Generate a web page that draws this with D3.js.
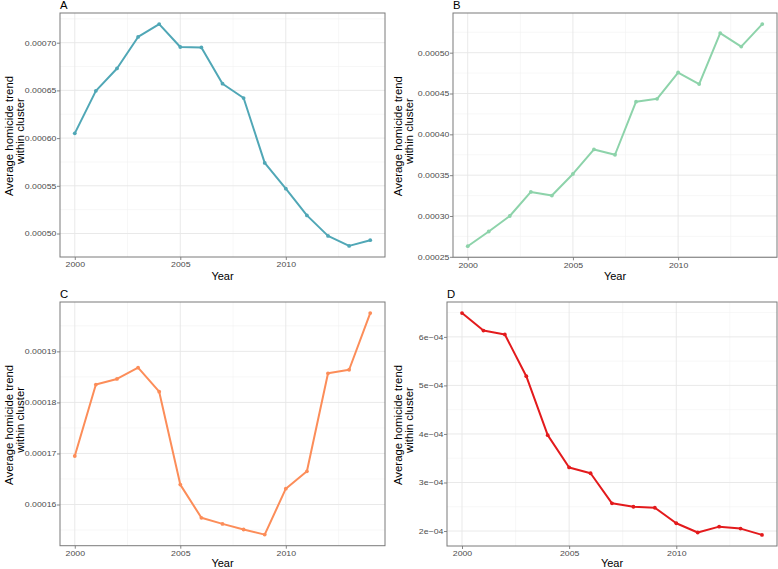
<!DOCTYPE html>
<html>
<head>
<meta charset="utf-8">
<script src="https://cdn.jsdelivr.net/npm/d3@7"></script>
<style>
  html, body { margin: 0; padding: 0; background: #fff; }
  svg { display: block; font-family: "Liberation Sans", Arial, Helvetica, sans-serif; }
</style>
</head>
<body>
<svg id="chart" width="778" height="569"></svg>
<script>
const years = [2000, 2001, 2002, 2003, 2004, 2005, 2006, 2007, 2008, 2009, 2010, 2011, 2012, 2013, 2014];

const valuesA = [0.000605, 0.0006495, 0.000673, 0.000706, 0.0007195, 0.0006955, 0.000695, 0.000657, 0.000642, 0.000574, 0.000547, 0.000519, 0.0004975, 0.000487, 0.000493];
const valuesB = [0.000263, 0.000281, 0.0003, 0.0003295, 0.000325, 0.0003515, 0.0003815, 0.000375, 0.00044, 0.0004435, 0.0004757, 0.0004615, 0.000524, 0.0005075, 0.000535];
const valuesC = [0.0001695, 0.0001835, 0.0001846, 0.0001868, 0.0001821, 0.0001639, 0.0001574, 0.0001562, 0.0001551, 0.0001541, 0.0001631, 0.0001665, 0.0001857, 0.0001864, 0.0001975];
const valuesD = [0.000649, 0.000613, 0.000605, 0.000519, 0.0003975, 0.000331, 0.000319, 0.000257, 0.00025, 0.000248, 0.000216, 0.000197, 0.000209, 0.000205, 0.000192];

const xTicks = [2000, 2005, 2010];
const yTicksA = [0.0005, 0.00055, 0.0006, 0.00065, 0.0007];
const yTicksB = [0.00025, 0.0003, 0.00035, 0.0004, 0.00045, 0.0005];
const yTicksC = [0.00016, 0.00017, 0.00018, 0.00019];
const yTicksD = [0.0002, 0.0003, 0.0004, 0.0005, 0.0006];
const yLabelsA = ["0.00050", "0.00055", "0.00060", "0.00065", "0.00070"];
const yLabelsB = ["0.00025", "0.00030", "0.00035", "0.00040", "0.00045", "0.00050"];
const yLabelsC = ["0.00016", "0.00017", "0.00018", "0.00019"];
const yLabelsD = ["2e\u221204", "3e\u221204", "4e\u221204", "5e\u221204", "6e\u221204"];

const panelLetters = ["A", "B", "C", "D"];
const colors = ["#50A7B6", "#8DD3AA", "#FC8D59", "#E31A1C"];
const xTitle = "Year";
const yTitleLines = ["Average homicide trend", "within cluster"];

// horizontal stretch of the reference image's small text
const K = 1.2;

const panels = [
  { letter: panelLetters[0], values: valuesA, ticks: yTicksA, labels: yLabelsA, color: colors[0],
    box: { left: 60, right: 385, top: 13, bottom: 257 }, titleX: [12.6, 23.6], yearDy: 23 },
  { letter: panelLetters[1], values: valuesB, ticks: yTicksB, labels: yLabelsB, color: colors[1],
    box: { left: 453, right: 777, top: 13, bottom: 257.3 }, titleX: [402.3, 413.3], yearDy: 23 },
  { letter: panelLetters[2], values: valuesC, ticks: yTicksC, labels: yLabelsC, color: colors[2],
    box: { left: 60, right: 385, top: 302, bottom: 545.7 }, titleX: [12.6, 23.6], yearDy: 21.3 },
  { letter: panelLetters[3], values: valuesD, ticks: yTicksD, labels: yLabelsD, color: colors[3],
    box: { left: 447, right: 777, top: 302, bottom: 546 }, titleX: [402.3, 413.3], yearDy: 21 }
];

const svg = d3.select("#chart");

function expand(ext) {
  const pad = (ext[1] - ext[0]) * 0.05;
  return [ext[0] - pad, ext[1] + pad];
}

panels.forEach(p => {
  const b = p.box;
  const g = svg.append("g");
  const x = d3.scaleLinear().domain(expand(d3.extent(years))).range([b.left, b.right]);
  const y = d3.scaleLinear().domain(expand(d3.extent(p.values))).range([b.bottom, b.top]);

  // minor grid
  const xMinor = xTicks.slice(0, -1).map((t, i) => (t + xTicks[i + 1]) / 2).concat([xTicks[xTicks.length - 1] + 2.5]);
  const step = p.ticks[1] - p.ticks[0];
  const yMinorAll = [p.ticks[0] - step / 2].concat(p.ticks.map(t => t + step / 2));
  const [ymin, ymax] = y.domain();
  const yMinor = yMinorAll.filter(v => v >= ymin && v <= ymax);

  g.selectAll(".xminor").data(xMinor.filter(v => v <= x.domain()[1])).enter().append("line")
    .attr("x1", d => x(d)).attr("x2", d => x(d)).attr("y1", b.top).attr("y2", b.bottom)
    .attr("stroke", "#F2F2F2").attr("stroke-width", 0.6);
  g.selectAll(".yminor").data(yMinor).enter().append("line")
    .attr("x1", b.left).attr("x2", b.right).attr("y1", d => y(d)).attr("y2", d => y(d))
    .attr("stroke", "#F2F2F2").attr("stroke-width", 0.6);

  // major grid
  g.selectAll(".xmajor").data(xTicks).enter().append("line")
    .attr("x1", d => x(d)).attr("x2", d => x(d)).attr("y1", b.top).attr("y2", b.bottom)
    .attr("stroke", "#E6E6E6").attr("stroke-width", 0.9);
  g.selectAll(".ymajor").data(p.ticks).enter().append("line")
    .attr("x1", b.left).attr("x2", b.right).attr("y1", d => y(d)).attr("y2", d => y(d))
    .attr("stroke", "#E6E6E6").attr("stroke-width", 0.9);

  // axes
  const xAxis = d3.axisBottom(x).tickValues(xTicks).tickFormat(d3.format("d")).tickSize(3).tickPadding(2.2);
  const gx = g.append("g").attr("transform", `translate(0,${b.bottom})`).call(xAxis);
  gx.select(".domain").remove();
  gx.selectAll(".tick line").attr("stroke", "#333").attr("stroke-width", 0.6);
  gx.selectAll(".tick text").attr("fill", "#4D4D4D").attr("font-size", "7.3px")
    .attr("font-family", "Liberation Sans, Arial, sans-serif")
    .attr("transform", `scale(${K},1)`);

  const yAxis = d3.axisLeft(y).tickValues(p.ticks).tickFormat((d, i) => p.labels[i]).tickSize(3).tickPadding(1.5);
  const gy = g.append("g").attr("transform", `translate(${b.left},0)`).call(yAxis);
  gy.select(".domain").remove();
  gy.selectAll(".tick line").attr("stroke", "#333").attr("stroke-width", 0.6);
  gy.selectAll(".tick text").attr("fill", "#4D4D4D").attr("font-size", "7.3px")
    .attr("font-family", "Liberation Sans, Arial, sans-serif")
    .attr("x", -3.6 / K)
    .attr("transform", `scale(${K},1)`);

  // border
  g.append("rect").attr("x", b.left).attr("y", b.top)
    .attr("width", b.right - b.left).attr("height", b.bottom - b.top)
    .attr("fill", "none").attr("stroke", "#7A7A7A").attr("stroke-width", 1);

  // line
  const pts = years.map((yr, i) => [yr, p.values[i]]);
  g.append("path").datum(pts)
    .attr("d", d3.line().x(d => x(d[0])).y(d => y(d[1])))
    .attr("fill", "none").attr("stroke", p.color).attr("stroke-width", 2)
    .attr("stroke-linejoin", "round");
  g.selectAll(".pt").data(pts).enter().append("circle")
    .attr("cx", d => x(d[0])).attr("cy", d => y(d[1])).attr("r", 1.9)
    .attr("fill", p.color);

  // x title
  g.append("text")
    .attr("x", (b.left + b.right) / 2).attr("y", b.bottom + p.yearDy)
    .attr("text-anchor", "middle").attr("font-size", "11px").attr("fill", "#000").text(xTitle);

  // y title (two lines)
  const cy = (b.top + b.bottom) / 2;
  g.append("text")
    .attr("transform", `translate(${p.titleX[0]},${cy + 1}) rotate(-90)`)
    .attr("text-anchor", "middle").attr("font-size", "11.4px").attr("fill", "#000").text(yTitleLines[0]);
  g.append("text")
    .attr("transform", `translate(${p.titleX[1]},${cy - 4}) rotate(-90)`)
    .attr("text-anchor", "middle").attr("font-size", "11.4px").attr("fill", "#000").text(yTitleLines[1]);

  // panel letter
  g.append("text").attr("x", b.left).attr("y", b.top - 4.2)
    .attr("font-size", "11.3px").attr("fill", "#000").text(p.letter);
});
</script>
</body>
</html>
